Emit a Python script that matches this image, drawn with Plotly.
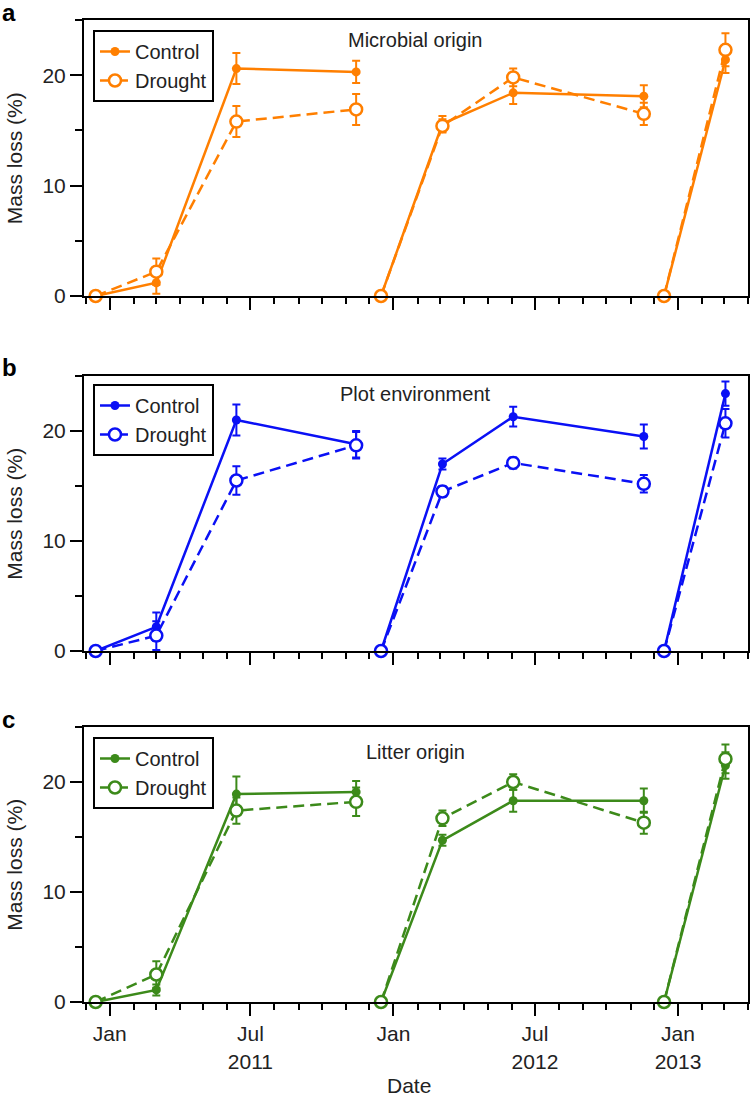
import plotly.graph_objects as go

# ---- data ----
cohort_dates = [
    ["2010-12-14", "2011-03-02", "2011-06-13", "2011-11-14"],
    ["2011-12-16", "2012-03-04", "2012-06-03", "2012-11-18"],
    ["2012-12-14", "2013-03-03"],
]
panels = ["Microbial origin", "Plot environment", "Litter origin"]
letters = ["a", "b", "c"]
colors = ["#FF7F00", "#0A10F5", "#3C8A1A"]

control_a = [[0, 1.2, 20.6, 20.3], [0, 15.6, 18.4, 18.1], [0, 21.4]]
control_a_err = [[0, 1.0, 1.4, 1.0], [0, 0.7, 1.0, 1.0], [0, 1.2]]
drought_a = [[0, 2.2, 15.8, 16.9], [0, 15.4, 19.8, 16.5], [0, 22.3]]
drought_a_err = [[0, 1.2, 1.4, 1.4], [0, 0.6, 0.8, 1.0], [0, 1.5]]

control_b = [[0, 2.2, 21.0, 18.8], [0, 17.0, 21.3, 19.5], [0, 23.4]]
control_b_err = [[0, 1.3, 1.4, 1.2], [0, 0.5, 0.9, 1.1], [0, 1.1]]
drought_b = [[0, 1.4, 15.5, 18.7], [0, 14.5, 17.1, 15.2], [0, 20.7]]
drought_b_err = [[0, 1.3, 1.3, 1.2], [0, 0.5, 0.5, 0.8], [0, 1.3]]

control_c = [[0, 1.1, 18.9, 19.1], [0, 14.7, 18.3, 18.3], [0, 21.5]]
control_c_err = [[0, 0.5, 1.6, 1.0], [0, 0.5, 1.0, 1.1], [0, 1.2]]
drought_c = [[0, 2.5, 17.4, 18.2], [0, 16.7, 20.0, 16.3], [0, 22.1]]
drought_c_err = [[0, 1.2, 1.2, 1.3], [0, 0.7, 0.7, 1.0], [0, 1.3]]

tick_vals = ["2011-01-01", "2011-07-01", "2012-01-01", "2012-07-01", "2013-01-01"]
tick_text = ["Jan", "Jul<br>2011", "Jan", "Jul<br>2012", "Jan<br>2013"]
y_ticks = [0, 10, 20]

data = [
    (control_a, control_a_err, drought_a, drought_a_err),
    (control_b, control_b_err, drought_b, drought_b_err),
    (control_c, control_c_err, drought_c, drought_c_err),
]


def join(groups):
    out = []
    for i, g in enumerate(groups):
        if i:
            out.append(None)
        out.extend(g)
    return out


xs = join(cohort_dates)

FONT = "Liberation Sans, Arial, sans-serif"
FS = 21
W, H = 752, 1101
L, R, T, B = 84, 2, 20, 99
ph = H - T - B
pw = W - L - R

# pixel rows of each panel (top, bottom)
rows = [(20, 296), (376, 651), (727, 1002)]
title_off = [20, 18, 25]
legend_off = [10, 8, 10]


def py(p):
    return (H - B - p) / ph


def px(p):
    return (p - L) / pw


fig = go.Figure()
annotations = []
for i, (c, ce, d, de) in enumerate(data):
    col = colors[i]
    ax = "" if i == 0 else str(i + 1)
    leg = "legend" if i == 0 else f"legend{i + 1}"
    fig.add_trace(go.Scatter(
        x=xs, y=join(c), mode="lines+markers", name="Control",
        xaxis="x" + ax, yaxis="y" + ax, legend=leg,
        line=dict(color=col, width=2.5),
        marker=dict(symbol="circle", size=9, color=col),
        error_y=dict(type="data", array=join(ce), color=col, thickness=2, width=4),
        connectgaps=False, cliponaxis=False,
    ))
    fig.add_trace(go.Scatter(
        x=xs, y=join(d), mode="lines+markers", name="Drought",
        xaxis="x" + ax, yaxis="y" + ax, legend=leg,
        line=dict(color=col, width=2.5, dash="11px,6px"),
        marker=dict(symbol="circle", size=12, color="white", line=dict(color=col, width=2.5)),
        error_y=dict(type="data", array=join(de), color=col, thickness=2, width=4),
        connectgaps=False, cliponaxis=False,
    ))
    top, bot = rows[i]
    dom = [py(bot), py(top)]
    xa = dict(
        type="date", range=["2010-11-29", "2013-04-01"], domain=[0, 1],
        anchor="y" + ax, showline=True, mirror=True, linecolor="black", linewidth=2,
        ticks="outside", ticklen=12, tickwidth=2, tickcolor="black",
        tickvals=tick_vals, ticktext=tick_text, showticklabels=(i == 2),
        tickfont=dict(family=FONT, size=FS, color="#222"),
        minor=dict(dtick="M1", tick0="2011-01-01", ticks="outside", ticklen=6,
                   tickwidth=2, tickcolor="black", showgrid=False),
        showgrid=False, zeroline=False,
    )
    ya = dict(
        range=[0, 25], domain=dom, anchor="x" + ax,
        showline=True, mirror=True, linecolor="black", linewidth=2,
        ticks="outside", ticklen=12, tickwidth=2, tickcolor="black",
        tickvals=y_ticks, tickfont=dict(family=FONT, size=FS, color="#222"),
        minor=dict(dtick=5, tick0=0, ticks="outside", ticklen=7, tickwidth=2,
                   tickcolor="black", showgrid=False),
        showgrid=False, zeroline=False,
    )
    fig.layout["xaxis" + ax] = xa
    fig.layout["yaxis" + ax] = ya
    fig.layout[leg] = dict(
        x=px(93), y=py(top + legend_off[i]), xanchor="left", yanchor="top",
        bordercolor="black", borderwidth=2, bgcolor="white",
        font=dict(family=FONT, size=FS - 1, color="#222"),
        tracegroupgap=0, itemwidth=30,
    )
    annotations.append(dict(
        text=panels[i], x=px(416), y=py(top + title_off[i]), xref="paper", yref="paper",
        showarrow=False, xanchor="center", yanchor="middle",
        font=dict(family=FONT, size=FS - 1, color="#222"),
    ))
    annotations.append(dict(
        text="<b>" + letters[i] + "</b>", x=px(0), y=py(top - 8), xref="paper", yref="paper",
        showarrow=False, xanchor="left", yanchor="middle",
        font=dict(family=FONT, size=24, color="black"),
    ))
    annotations.append(dict(
        text="Mass loss (%)", x=px(14), y=py((top + bot) / 2), xref="paper", yref="paper",
        showarrow=False, xanchor="center", yanchor="middle", textangle=-90,
        font=dict(family=FONT, size=FS, color="#222"),
    ))

annotations.append(dict(
    text="Date", x=px(410), y=py(1099), xref="paper", yref="paper",
    showarrow=False, xanchor="center", yanchor="bottom",
    font=dict(family=FONT, size=FS, color="#222"),
))

fig.update_layout(
    width=W, height=H, margin=dict(l=L, r=R, t=T, b=B),
    paper_bgcolor="white", plot_bgcolor="white",
    annotations=annotations, showlegend=True,
    font=dict(family=FONT, color="black"),
)

fig.write_html("out.html", config={"displayModeBar": False},
               post_script="document.body.style.margin='0';")
